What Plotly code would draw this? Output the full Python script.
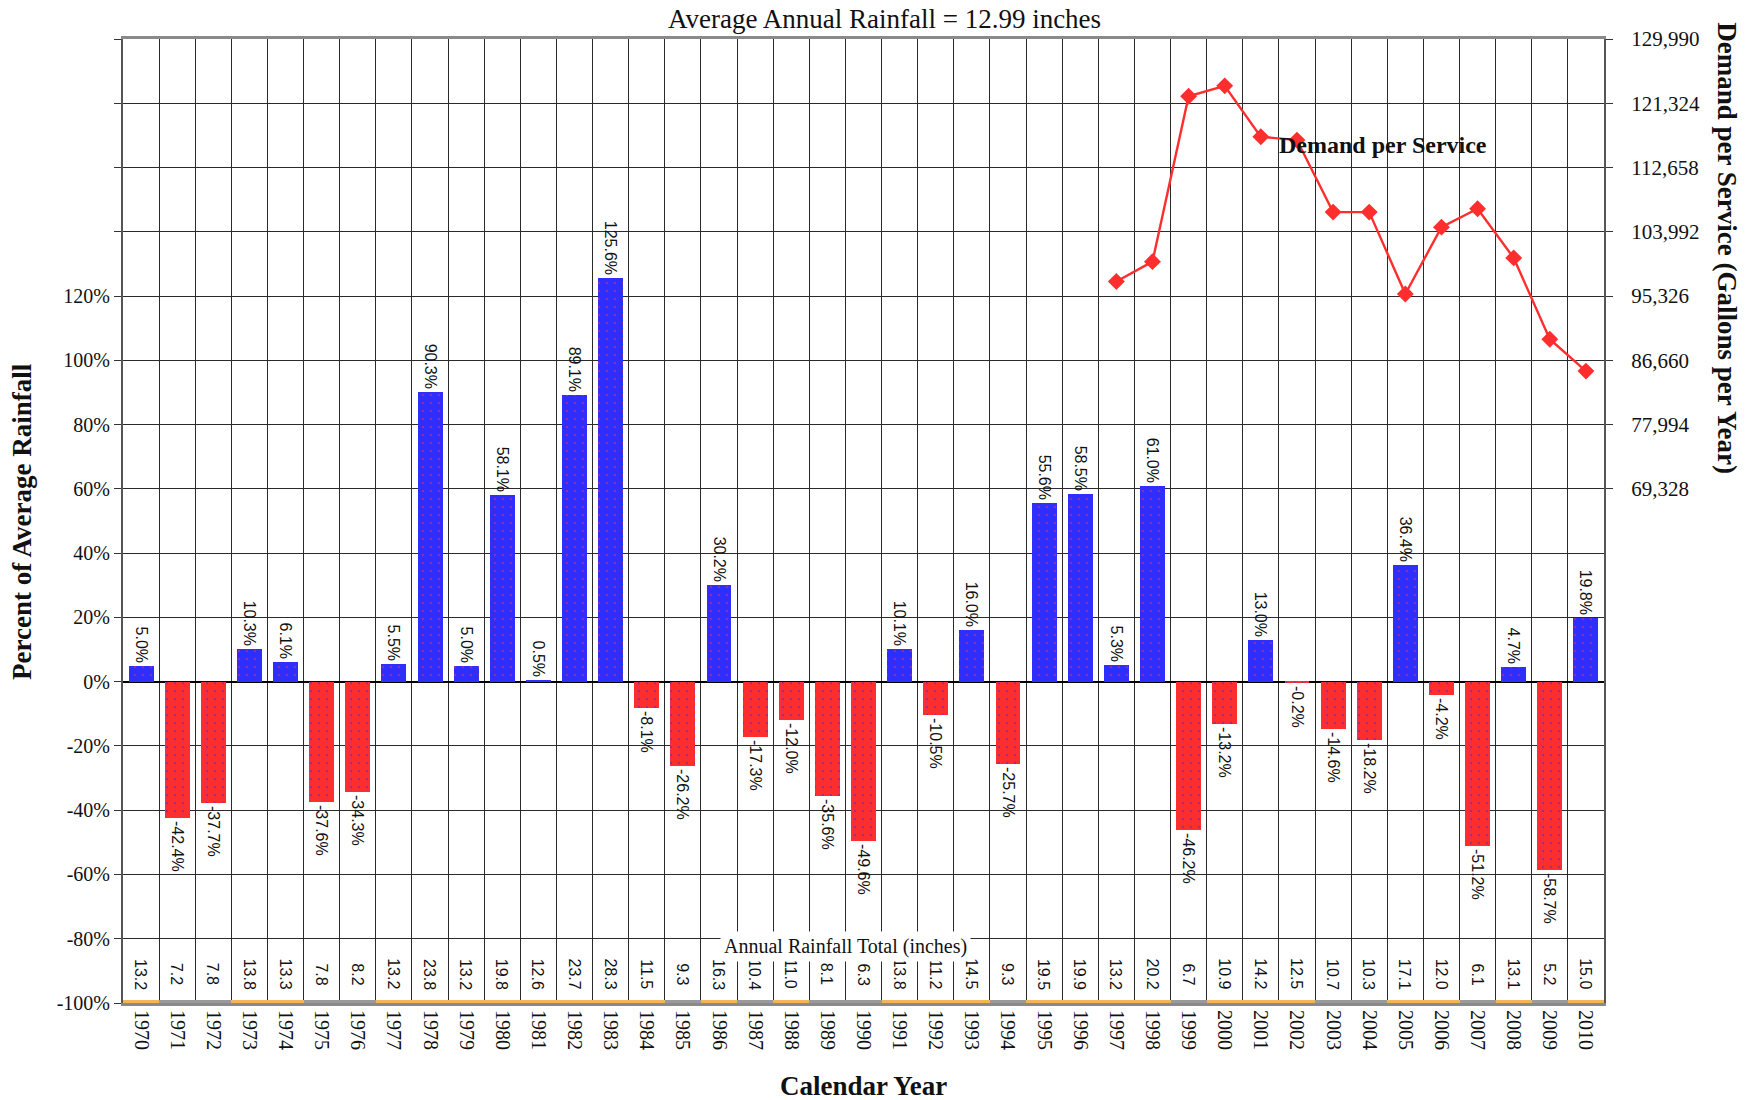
import plotly.graph_objects as go

years = ["1970", "1971", "1972", "1973", "1974", "1975", "1976", "1977", "1978", "1979",
         "1980", "1981", "1982", "1983", "1984", "1985", "1986", "1987", "1988", "1989",
         "1990", "1991", "1992", "1993", "1994", "1995", "1996", "1997", "1998", "1999",
         "2000", "2001", "2002", "2003", "2004", "2005", "2006", "2007", "2008", "2009", "2010"]

pct_of_avg = [5.0, -42.4, -37.7, 10.3, 6.1, -37.6, -34.3, 5.5, 90.3, 5.0,
              58.1, 0.5, 89.1, 125.6, -8.1, -26.2, 30.2, -17.3, -12.0, -35.6,
              -49.6, 10.1, -10.5, 16.0, -25.7, 55.6, 58.5, 5.3, 61.0, -46.2,
              -13.2, 13.0, -0.2, -14.6, -18.2, 36.4, -4.2, -51.2, 4.7, -58.7, 19.8]

rainfall_in = [13.2, 7.2, 7.8, 13.8, 13.3, 7.8, 8.2, 13.2, 23.8, 13.2,
               19.8, 12.6, 23.7, 28.3, 11.5, 9.3, 16.3, 10.4, 11.0, 8.1,
               6.3, 13.8, 11.2, 14.5, 9.3, 19.5, 19.9, 13.2, 20.2, 6.7,
               10.9, 14.2, 12.5, 10.7, 10.3, 17.1, 12.0, 6.1, 13.1, 5.2, 15.0]

demand_years = ["1997", "1998", "1999", "2000", "2001", "2002", "2003", "2004",
                "2005", "2006", "2007", "2008", "2009", "2010"]
demand_gal = [97300, 99970, 122270, 123670, 116800, 116360, 106650, 106650,
              95600, 104620, 107110, 100470, 89500, 85210]

left_ticks = [-100, -80, -60, -40, -20, 0, 20, 40, 60, 80, 100, 120, 140, 160, 180, 200]
left_tick_labels = ["-100%", "-80%", "-60%", "-40%", "-20%", "0%", "20%", "40%", "60%",
                    "80%", "100%", "120%", "", "", "", ""]
right_ticks = [69328, 77994, 86660, 95326, 103992, 112658, 121324, 129990]
right_tick_labels = ["69,328", "77,994", "86,660", "95,326", "103,992", "112,658",
                     "121,324", "129,990"]
avg_rainfall = 12.99

SERIF = "Liberation Serif"
SANS = "Liberation Sans"
BLUE = "#2e2eff"
RED = "#ff2e2e"
ORANGE = "#f2b655"
GRAY = "#9a9a9a"
GRID = "#2a2a2a"

stripe_col = [ORANGE if r > 10.8 else GRAY for r in rainfall_in]

fig = go.Figure()

# bottom colored stripe along -100%
fig.add_trace(go.Bar(
    x=years, y=[0.9] * len(years), base=-100, width=1.0,
    marker=dict(color=stripe_col, line=dict(width=0)),
    hoverinfo="skip", showlegend=False))

# above-average (blue, red dots) and below-average (red, blue dots) bars
for positive, bg, fg in [(True, BLUE, RED), (False, RED, BLUE)]:
    xs = [y for y, v in zip(years, pct_of_avg) if (v >= 0) == positive]
    vs = [v for v in pct_of_avg if (v >= 0) == positive]
    fig.add_trace(go.Bar(
        x=xs, y=vs, width=0.69,
        marker=dict(color=bg, line=dict(width=0),
                    pattern=dict(shape=".", fgcolor=fg, size=8, solidity=0.07,
                                 fillmode="overlay")),
        text=[f"{v:.1f}%" for v in vs],
        textposition="outside", textangle=90, constraintext="none",
        textfont=dict(family=SANS, size=16, color="#111"),
        cliponaxis=False, showlegend=False))

fig.add_trace(go.Scatter(
    x=demand_years, y=demand_gal, yaxis="y2", mode="lines+markers",
    line=dict(color=RED, width=2.4),
    marker=dict(symbol="diamond", size=13, color=RED),
    showlegend=False))

annotations = []
for i, r in enumerate(rainfall_in):
    annotations.append(dict(x=i, y=-91, xref="x", yref="y", text=f"{r:.1f}",
                            textangle=90, showarrow=False,
                            xanchor="center", yanchor="middle",
                            font=dict(family=SANS, size=16, color="#111")))

annotations += [
    dict(x=0.488, y=-82.4, xref="paper", yref="y", text="Annual Rainfall Total (inches)",
         showarrow=False, bgcolor="white", borderpad=3, xanchor="center", yanchor="middle",
         font=dict(family=SERIF, size=20, color="#111")),
    dict(x=0.514, y=1.0207, xref="paper", yref="paper",
         text=f"Average Annual Rainfall = {avg_rainfall:.2f} inches",
         showarrow=False, xanchor="center", yanchor="middle",
         font=dict(family=SERIF, size=27, color="#111")),
    dict(x=-0.0682, y=0.5, xref="paper", yref="paper", text="<b>Percent of Average Rainfall</b>",
         textangle=-90, showarrow=False, xanchor="center", yanchor="middle",
         font=dict(family=SERIF, size=27, color="#111")),
    dict(x=1.083, y=0.783, xref="paper", yref="paper",
         text="<b>Demand per Service (Gallons per Year)</b>",
         textangle=90, showarrow=False, xanchor="center", yanchor="middle",
         font=dict(family=SERIF, size=27, color="#111")),
    dict(x=0.4997, y=-0.086, xref="paper", yref="paper", text="<b>Calendar Year</b>",
         showarrow=False, xanchor="center", yanchor="middle",
         font=dict(family=SERIF, size=27, color="#111")),
    dict(x=0.851, y=115700, xref="paper", yref="y2", text="<b>Demand per Service</b>",
         showarrow=False, xanchor="center", yanchor="middle",
         font=dict(family=SERIF, size=24, color="#111")),
]

fig.update_layout(
    width=1753, height=1100,
    margin=dict(l=123, r=149, t=39, b=97),
    paper_bgcolor="white", plot_bgcolor="white",
    bargap=0, barmode="overlay",
    annotations=annotations,
    xaxis=dict(type="category", categoryorder="array", categoryarray=years,
               tickson="boundaries", showgrid=True,
               gridcolor=GRID, gridwidth=1, ticks="", tickangle=90,
               tickfont=dict(family=SERIF, size=20, color="#111"),
               showline=True, mirror=True, linecolor="#8a8a8a", linewidth=3,
               range=[-0.5, len(years) - 0.5]),
    yaxis=dict(range=[-100, 200], tickvals=left_ticks, ticktext=left_tick_labels,
               showgrid=True, gridcolor=GRID, gridwidth=1,
               zeroline=True, zerolinecolor="#000", zerolinewidth=1.5,
               ticks="outside", ticklen=7, tickcolor="#333",
               showline=True, linecolor="#555", linewidth=2,
               tickfont=dict(family=SERIF, size=20, color="#111")),
    yaxis2=dict(range=[0, 129990], overlaying="y", side="right",
                tickvals=right_ticks, ticktext=right_tick_labels,
                showgrid=False, zeroline=False,
                ticks="outside", ticklen=7, tickcolor="#333",
                ticklabelstandoff=14,
                showline=True, linecolor="#555", linewidth=2,
                tickfont=dict(family=SERIF, size=21, color="#111")),
)

fig.write_html("out.html", config={"displayModeBar": False},
               post_script="document.body.style.margin='0';document.body.style.overflow='hidden';")
